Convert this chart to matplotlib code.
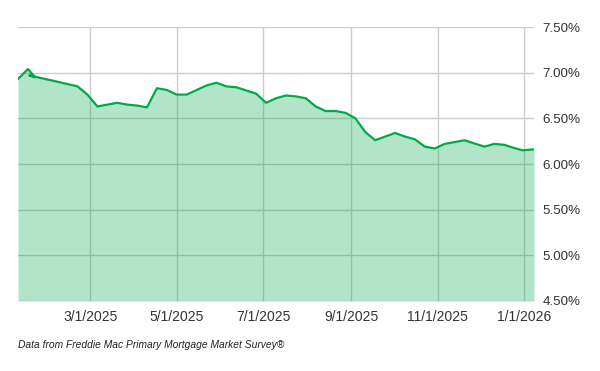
import matplotlib
matplotlib.use("Agg")
import matplotlib.pyplot as plt
import pandas as pd

plt.rcParams['font.family'] = ['Liberation Sans', 'DejaVu Sans']

dates = ['2025-01-09', '2025-01-16', '2025-01-21', '2025-01-17', '2025-02-06',
         '2025-02-20', '2025-02-27', '2025-03-06', '2025-03-13', '2025-03-20',
         '2025-03-27', '2025-04-03', '2025-04-10', '2025-04-17', '2025-04-24',
         '2025-05-01', '2025-05-08', '2025-05-15', '2025-05-22', '2025-05-29',
         '2025-06-05', '2025-06-12', '2025-06-18', '2025-06-26', '2025-07-03',
         '2025-07-10', '2025-07-17', '2025-07-24', '2025-07-31', '2025-08-07',
         '2025-08-14', '2025-08-21', '2025-08-28', '2025-09-04', '2025-09-11',
         '2025-09-18', '2025-09-25', '2025-10-02', '2025-10-09', '2025-10-16',
         '2025-10-23', '2025-10-30', '2025-11-06', '2025-11-13', '2025-11-20',
         '2025-11-26', '2025-12-04', '2025-12-11', '2025-12-18', '2025-12-24',
         '2025-12-31', '2026-01-08']
rates = [6.93, 7.04, 6.95, 6.97, 6.90,
         6.85, 6.76, 6.63, 6.65, 6.67,
         6.65, 6.64, 6.62, 6.83, 6.81,
         6.76, 6.76, 6.81, 6.86, 6.89,
         6.85, 6.84, 6.81, 6.77, 6.67,
         6.72, 6.75, 6.74, 6.72, 6.63,
         6.58, 6.58, 6.56, 6.50, 6.35,
         6.26, 6.30, 6.34, 6.30, 6.27,
         6.19, 6.17, 6.22, 6.24, 6.26,
         6.23, 6.19, 6.22, 6.21, 6.18,
         6.15, 6.16]

x_ticks = ['2025-03-01', '2025-05-01', '2025-07-01', '2025-09-01', '2025-11-01', '2026-01-01']
y_ticks = [4.5, 5.0, 5.5, 6.0, 6.5, 7.0, 7.5]
source = "Data from Freddie Mac Primary Mortgage Market Survey®"

x = pd.to_datetime(dates)
xt = pd.to_datetime(x_ticks)

fig = plt.figure(figsize=(6, 3.71), dpi=100)
ax = fig.add_axes([0.03, 0.1887, 0.86, 0.7385])

green = '#00aa46'
ax.fill_between(x, rates, y_ticks[0], color=green, alpha=0.3, linewidth=0, zorder=2)
ax.plot(x, rates, color=green, linewidth=1.6, zorder=3)

ax.set_xlim(pd.Timestamp('2025-01-09'), pd.Timestamp('2026-01-08'))
ax.set_ylim(y_ticks[0], y_ticks[-1])
ax.set_xticks(xt)
ax.set_xticklabels([f"{d.month}/{d.day}/{d.year}" for d in xt])
ax.set_yticks(y_ticks)
ax.set_yticklabels([f"{v:.2f}%" for v in y_ticks])
ax.yaxis.tick_right()
ax.grid(True, color='#cccccc', linewidth=1, zorder=1)
ax.set_axisbelow(True)
for s in ax.spines.values():
    s.set_visible(False)
ax.tick_params(axis='y', length=0, pad=6, labelsize=9.6, labelcolor='#333333')
ax.tick_params(axis='x', length=0, pad=6.5, labelsize=10, labelcolor='#333333')

fig.text(0.03, 1 - 345 / 371, source, fontsize=7.4, style='italic', color='#222222',
         va='center', ha='left')

fig.savefig('out.png', dpi=100)
